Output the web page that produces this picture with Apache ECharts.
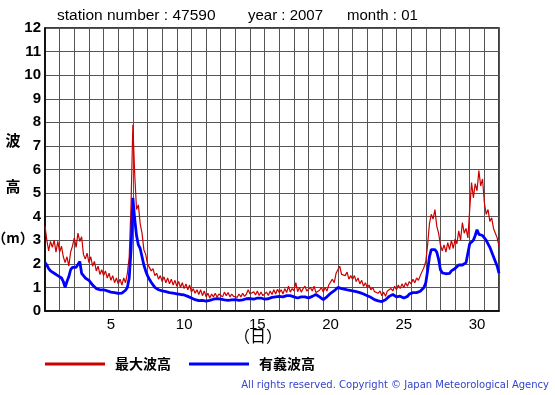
<!DOCTYPE html>
<html><head><meta charset="utf-8">
<script src="https://cdn.jsdelivr.net/npm/echarts@6/dist/echarts.min.js"></script>
<style>html,body{margin:0;padding:0;background:#fff}#c{width:555px;height:395px}</style>
</head><body><div id="c"></div>
<script>
// 3-hourly samples, January 2007, station 47590 (day index 1..31, 8 samples per day) + final point
const stepHours = 3;
const maxWave = [
 3.6,3.0,2.55,2.95,2.7,3.0,2.5,2.95,
 2.5,2.75,2.3,2.05,2.3,1.9,2.5,2.75,
 3.1,2.7,3.3,2.95,3.15,2.4,2.2,2.45,
 2.05,2.3,1.9,2.1,1.7,1.9,1.55,1.75,
 1.5,1.7,1.4,1.6,1.3,1.5,1.2,1.4,
 1.15,1.35,1.1,1.4,1.2,1.6,2.3,4.5,
 7.9,5.8,4.3,4.5,3.7,3.3,2.6,2.4,
 2.0,1.85,1.7,1.8,1.5,1.6,1.35,1.5,
 1.25,1.45,1.2,1.4,1.15,1.35,1.1,1.3,
 1.05,1.25,1.0,1.2,0.95,1.15,0.9,1.1,
 0.8,0.95,0.75,0.9,0.7,0.9,0.65,0.85,
 0.6,0.75,0.55,0.72,0.6,0.75,0.58,0.72,
 0.78,0.6,0.8,0.65,0.78,0.6,0.72,0.62,
 0.7,0.58,0.72,0.6,0.75,0.62,0.72,0.9,
 0.72,0.65,0.82,0.68,0.85,0.66,0.8,0.65,
 0.72,0.8,0.66,0.85,0.7,0.9,0.72,0.92,
 0.78,0.9,0.72,0.95,0.78,1.05,0.8,0.95,
 0.85,1.2,0.82,1.0,0.8,0.95,1.05,0.85,
 0.8,1.0,0.85,1.05,0.78,0.72,0.88,1.0,
 0.8,1.0,0.85,1.1,1.05,1.35,1.2,1.6,
 1.75,1.9,1.55,1.6,1.5,1.65,1.35,1.5,
 1.35,1.5,1.25,1.4,1.15,1.3,1.05,1.2,
 1.0,1.1,0.9,1.0,0.82,0.9,0.75,0.85,
 0.65,0.8,0.62,0.85,0.8,0.95,0.85,1.05,
 0.9,1.1,0.95,1.15,1.0,1.2,1.05,1.25,
 1.15,1.35,1.2,1.4,1.3,1.5,1.55,1.85,
 2.1,2.8,3.7,4.1,3.9,4.3,3.6,3.3,
 2.8,2.55,2.8,2.5,2.9,2.6,3.0,2.65,
 3.05,2.85,3.4,3.0,3.75,3.3,3.5,3.1,
 4.3,5.45,4.8,5.4,5.1,5.95,5.3,5.6,
 4.6,4.1,4.3,3.8,3.95,3.5,3.55,3.1,
 2.75
];
const sigWave = [
 2.05,1.95,1.8,1.7,1.65,1.6,1.55,1.5,
 1.52,1.4,1.25,1.0,1.25,1.45,1.75,1.85,
 1.8,1.85,1.9,2.1,1.6,1.5,1.4,1.35,
 1.3,1.2,1.1,1.05,0.95,0.92,0.9,0.92,
 0.9,0.88,0.85,0.82,0.8,0.78,0.78,0.75,
 0.75,0.74,0.76,0.8,0.88,1.0,1.4,2.6,
 4.8,3.9,3.2,2.8,2.65,2.3,1.95,1.7,
 1.5,1.35,1.22,1.15,1.0,0.92,0.9,0.88,
 0.85,0.84,0.82,0.8,0.78,0.77,0.76,0.75,
 0.73,0.72,0.7,0.7,0.68,0.66,0.62,0.58,
 0.55,0.5,0.48,0.45,0.44,0.46,0.45,0.44,
 0.42,0.43,0.45,0.48,0.5,0.52,0.53,0.5,
 0.5,0.48,0.47,0.46,0.45,0.46,0.47,0.5,
 0.48,0.46,0.45,0.45,0.47,0.5,0.52,0.53,
 0.53,0.52,0.5,0.52,0.55,0.58,0.55,0.52,
 0.5,0.5,0.52,0.55,0.58,0.6,0.6,0.62,
 0.62,0.6,0.6,0.62,0.65,0.66,0.65,0.62,
 0.6,0.58,0.55,0.58,0.6,0.62,0.6,0.57,
 0.55,0.58,0.62,0.65,0.7,0.68,0.6,0.52,
 0.48,0.5,0.6,0.65,0.75,0.82,0.86,0.9,
 1.0,0.92,0.95,0.9,0.92,0.9,0.88,0.86,
 0.85,0.84,0.82,0.8,0.78,0.76,0.72,0.68,
 0.65,0.62,0.58,0.52,0.48,0.45,0.43,0.42,
 0.4,0.42,0.48,0.55,0.62,0.68,0.7,0.65,
 0.6,0.58,0.63,0.6,0.55,0.53,0.62,0.72,
 0.77,0.78,0.8,0.78,0.82,0.84,0.9,1.0,
 1.2,1.7,2.3,2.6,2.55,2.6,2.5,2.2,
 1.75,1.62,1.6,1.58,1.65,1.6,1.7,1.72,
 1.8,1.85,1.95,1.9,1.95,2.0,2.05,2.0,
 2.85,2.9,3.0,3.2,3.45,3.25,3.3,3.2,
 3.1,3.0,2.85,2.7,2.5,2.3,2.1,1.9,
 1.6
];
const dayTickLabels = [5, 10, 15, 20, 25, 30];
const yTicks = [0,1,2,3,4,5,6,7,8,9,10,11,12];
const seriesNames = ['最大波高', '有義波高'];
const titleParts = ['station number : 47590', 'year : 2007', 'month : 01'];

const toPairs = arr => arr.map((v, i) => [i * stepHours / 24, v]);

const chart = echarts.init(document.getElementById('c'), null, {renderer: 'canvas'});
const font = '"Liberation Sans", Arial, Helvetica, sans-serif';
chart.setOption({
  animation: false,
  grid: {left: 45, right: 56, top: 28, bottom: 84, show: true, borderColor: '#000', borderWidth: 1.5, backgroundColor: 'transparent'},
  xAxis: [
    {type: 'value', min: 0, max: 31, interval: 1, position: 'bottom',
     axisLine: {show: true, lineStyle: {color: '#000', width: 1.5}}, axisTick: {show: false},
     axisLabel: {show: false},
     splitLine: {show: true, lineStyle: {color: '#555', width: 1}}},
    {type: 'value', min: 0.5, max: 31.5, interval: 0.5, position: 'bottom',
     axisLine: {show: false}, axisTick: {show: false}, splitLine: {show: false},
     axisLabel: {show: true, margin: 6, color: '#000', fontSize: 15, fontFamily: font,
       formatter: v => dayTickLabels.indexOf(v) >= 0 ? String(v) : ''}}
  ],
  yAxis: {type: 'value', min: yTicks[0], max: yTicks[yTicks.length - 1], interval: 1,
    axisLine: {show: true, lineStyle: {color: '#000', width: 1.5}}, axisTick: {show: false},
    axisLabel: {color: '#000', fontSize: 15, fontWeight: 'bold', fontFamily: font, margin: 4},
    splitLine: {show: true, lineStyle: {color: '#555', width: 1}}},
  legend: {left: 45, top: 357, padding: 0, itemWidth: 60, itemHeight: 3, icon: 'rect', itemGap: 18,
    textStyle: {fontSize: 14, fontWeight: 'bold', color: '#000', padding: [0, 0, 0, 5],
      fontFamily: '"Noto Sans CJK JP", sans-serif'},
    data: seriesNames},
  series: [
    {name: seriesNames[0], type: 'line', xAxisIndex: 0, data: toPairs(maxWave), showSymbol: false,
     lineStyle: {color: '#cc0000', width: 1.2}, itemStyle: {color: '#cc0000'}, z: 3},
    {name: seriesNames[1], type: 'line', xAxisIndex: 0, data: toPairs(sigWave), showSymbol: false,
     lineStyle: {color: '#0000ff', width: 2.8}, itemStyle: {color: '#0000ff'}, z: 4}
  ],
  graphic: [
    {type: 'text', left: 57, top: 8, style: {text: titleParts[0], font: '15.5px ' + font, fill: '#000'}},
    {type: 'text', left: 248, top: 8, style: {text: titleParts[1], font: '15px ' + font, fill: '#000'}},
    {type: 'text', left: 347, top: 8, style: {text: titleParts[2], font: '15px ' + font, fill: '#000'}},
    {type: 'text', x: 13, y: 140, style: {text: '波', font: 'bold 15px "Noto Sans CJK JP", sans-serif', fill: '#000', align: 'center', verticalAlign: 'middle'}},
    {type: 'text', x: 13, y: 186, style: {text: '高', font: 'bold 15px "Noto Sans CJK JP", sans-serif', fill: '#000', align: 'center', verticalAlign: 'middle'}},
    {type: 'text', x: 13, y: 238, style: {text: '（m）', font: 'bold 14px "Noto Sans CJK JP", sans-serif', fill: '#000', align: 'center', verticalAlign: 'middle'}},
    {type: 'text', x: 258, y: 336, style: {text: '（日）', font: '16px "Noto Sans CJK JP", sans-serif', fill: '#000', align: 'center', verticalAlign: 'middle'}},
    {type: 'text', x: 549, y: 385, style: {text: 'All rights reserved. Copyright © Japan Meteorological Agency', font: '10px "DejaVu Sans", sans-serif', fill: '#3344cc', align: 'right', verticalAlign: 'middle'}}
  ]
});
</script></body></html>
